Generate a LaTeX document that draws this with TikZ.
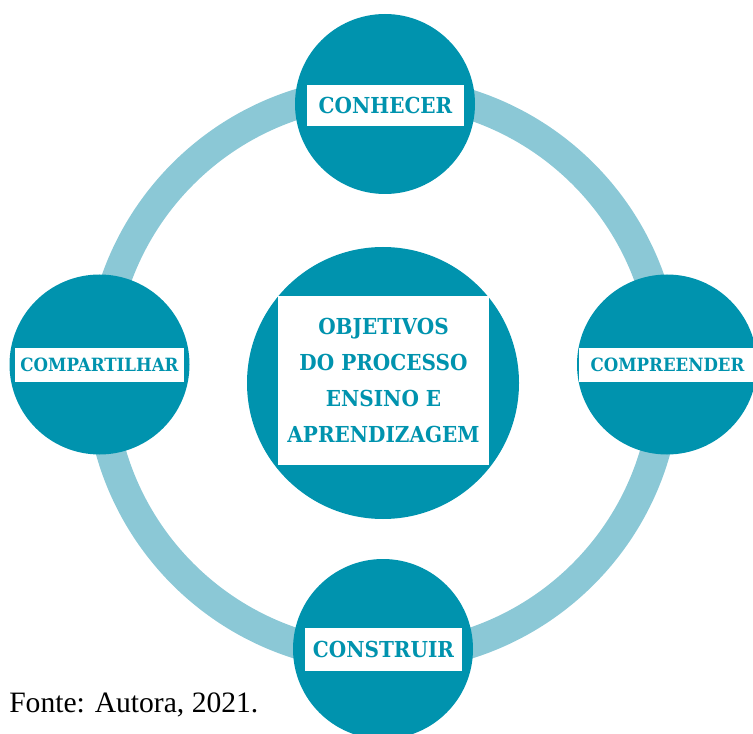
\documentclass[tikz,border=0pt]{standalone}
\usepackage{fontspec}
\setmainfont[FakeStretch=0.91]{DejaVu Serif}
\newfontfamily\fontefont{Liberation Serif}
\definecolor{tealdark}{HTML}{0093AE}
\definecolor{teallight}{HTML}{8BC8D6}
\begin{document}
\begin{tikzpicture}[x=0.75pt,y=-0.75pt,
  bubble/.style={circle,fill=tealdark,draw=none,inner sep=0pt},
  tag/.style={fill=white,text=tealdark,font=\bfseries,inner sep=0pt,align=center},
]
\useasboundingbox (0,0) rectangle (753,734);
% ring
\draw[teallight,line width=22.5pt] (383,374) circle [radius=283];
% circles
\node[bubble,minimum size=135pt] (top) at (385,104) {};
\node[bubble,minimum size=135pt] (left) at (99.5,364.5) {};
\node[bubble,minimum size=135pt] (right) at (667,364.5) {};
\node[bubble,minimum size=135pt] (bottom) at (383,649) {};
\node[bubble,minimum size=204pt] (center) at (383,383) {};
% labels
\node[tag,minimum width=117.75pt,minimum height=30.75pt,font=\bfseries\fontsize{16.5}{18}\selectfont] (topl) at (385.5,105.5) {CONHECER};
\node[tag,minimum width=117.75pt,minimum height=32.25pt,font=\bfseries\fontsize{16.5}{18}\selectfont] (bottoml) at (383.5,649.5) {CONSTRUIR};
\node[tag,minimum width=126.75pt,minimum height=25.5pt,font=\bfseries\fontsize{13.7}{15}\selectfont] (leftl) at (99.5,365) {COMPARTILHAR};
\node[tag,minimum width=132.75pt,minimum height=25.5pt,font=\bfseries\fontsize{13.7}{15}\selectfont] (rightl) at (667.5,365) {COMPREENDER};
\node[tag,minimum width=158.25pt,minimum height=126.75pt,font=\bfseries\fontsize{16.5}{26.8}\selectfont] (centerl) at (383.5,380.5) {OBJETIVOS\\DO PROCESSO\\ENSINO E\\APRENDIZAGEM};
% source
\node[anchor=base west,inner sep=0pt,font=\fontefont\fontsize{22.2}{24}\selectfont] (fonte) at (9,712) {Fonte: Autora, 2021.};
\end{tikzpicture}
\end{document}
